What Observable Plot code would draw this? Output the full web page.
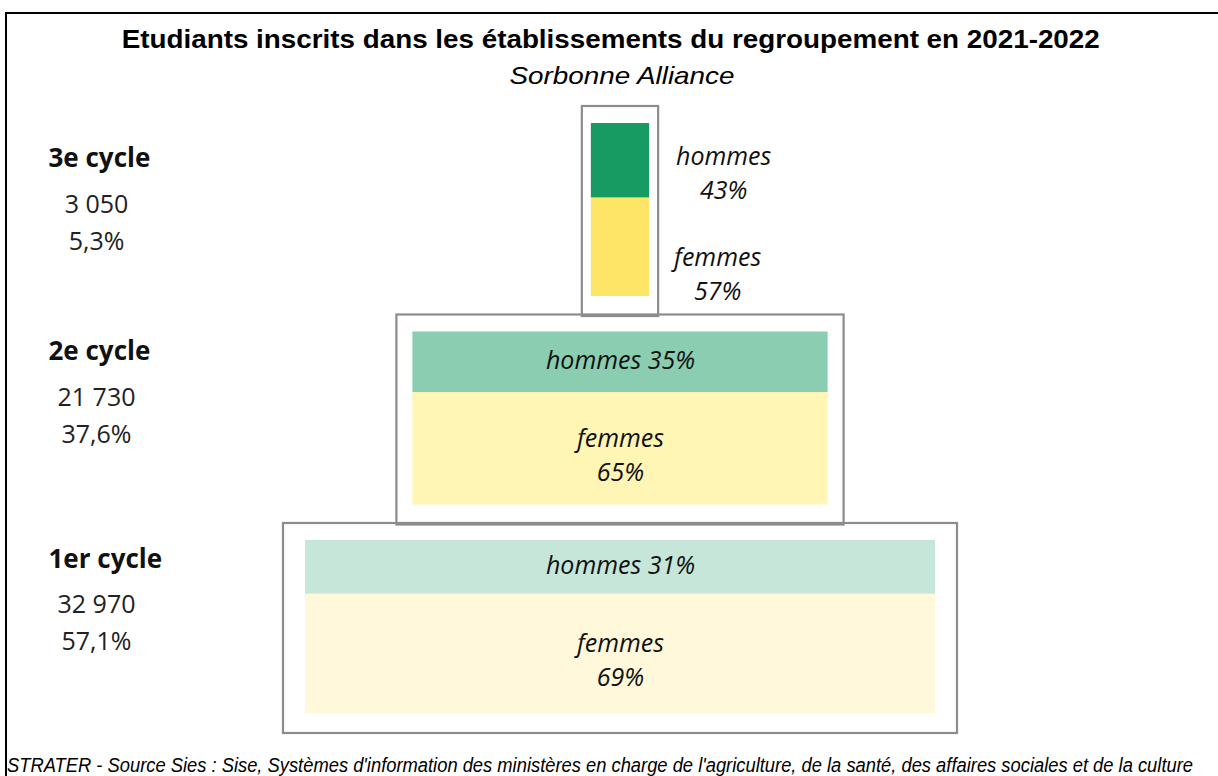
<!DOCTYPE html>
<html>
<head>
<meta charset="utf-8">
<script src="https://cdn.jsdelivr.net/npm/d3@7"></script>
<script src="https://cdn.jsdelivr.net/npm/@observablehq/plot@0.6"></script>
<style>
  html, body { margin: 0; padding: 0; background: #fff; }
  #page { position: relative; width: 1218px; height: 776px; overflow: hidden; background: #fff; }
  #frame { position: absolute; left: 5px; top: 12px; width: 1230px; height: 800px;
           border-top: 2px solid #000; border-left: 2px solid #000; box-sizing: border-box; }
  .line { position: absolute; white-space: nowrap; }
  .line span { display: inline-block; transform-origin: 0 50%; }
  #title { left: 0; width: 1222px; top: 27px; text-align: center;
           font: bold 25px/25px "Liberation Sans", Arial, sans-serif; color: #000; }
  #subtitle { left: 0; width: 1244px; top: 64px; text-align: center;
           font: italic 24px/24px "Liberation Sans", Arial, sans-serif; color: #000; }
  #chart { position: absolute; left: 0; top: 100px; }
  #caption { left: 7px; top: 755px;
           font: italic 20px/20px "Liberation Sans", Arial, sans-serif; color: #000; }
</style>
</head>
<body>
<div id="page">
  <div id="frame"></div>
  <div class="line" id="title"><span>Etudiants inscrits dans les établissements du regroupement en 2021-2022</span></div>
  <div class="line" id="subtitle"><span>Sorbonne Alliance</span></div>
  <div id="chart"></div>
  <div class="line" id="caption"><span>STRATER - Source Sies : Sise, Systèmes d'information des ministères en charge de l'agriculture, de la santé, des affaires sociales et de la culture</span></div>
</div>
<script>
// ---- Data ----
const cycles     = ["3e cycle", "2e cycle", "1er cycle"];
const effectifs  = [3050, 21730, 32970];
const parts      = [5.3, 37.6, 57.1];       // % of all students
const hommesPct  = [43, 35, 31];
const femmesPct  = [57, 65, 69];

// ---- Styles ----
const couleursHommes = ["#189a63", "#8bcdb1", "#c5e6d9"];
const couleursFemmes = ["#ffe566", "#fff5b4", "#fff8da"];
const boxPad   = [9, 16, 22];      // px padding of the grey outline around each bar
const labelDy  = [15, 0, -1];      // px vertical nudge of the left-hand labels
const STEP = 120.5;                // vertical distance between levels (in % units)

const fr = d3.formatLocale({decimal: ",", thousands: " ", grouping: [3], currency: ["", " €"]});
const fmtN = fr.format(",d");
const fmtP = fr.format(".1f");

const rows = cycles.map((c, i) => ({
  cycle: c, i, n: effectifs[i], part: parts[i], h: hommesPct[i], f: femmesPct[i],
  base: (cycles.length - 1 - i) * STEP, narrow: parts[i] < 10
}));
const segs = rows.flatMap(r => [
  {cycle: r.cycle, i: r.i, sexe: "femmes", n: r.n, pct: r.f, y1: r.base, y2: r.base + r.f,
   color: couleursFemmes[r.i], narrow: r.narrow},
  {cycle: r.cycle, i: r.i, sexe: "hommes", n: r.n, pct: r.h, y1: r.base + r.f, y2: r.base + 100,
   color: couleursHommes[r.i], narrow: r.narrow}
]);

const FONT = "'Open Sans', sans-serif";
const marks = [];

// grey outlines
rows.forEach(r => {
  marks.push(Plot.rect([r], {
    x1: d => -d.n / 2, x2: d => d.n / 2, y1: d => d.base, y2: d => d.base + 100,
    fill: "none", stroke: "#8c8c8c", strokeWidth: 2.2,
    insetLeft: -boxPad[r.i], insetRight: -boxPad[r.i], insetTop: -17, insetBottom: -20
  }));
});

// stacked bars
marks.push(Plot.rect(segs, {
  x1: d => -d.n / 2, x2: d => d.n / 2, y1: "y1", y2: "y2", fill: "color"
}));

// inside labels (wide bars)
marks.push(Plot.text(segs.filter(d => !d.narrow && d.sexe === "hommes"), {
  x: d => 0, y: d => (d.y1 + d.y2) / 2, text: d => `hommes ${d.pct}%`,
  fontStyle: "italic", fontSize: 25, fontFamily: FONT, fill: "#111", dy: -1
}));
marks.push(Plot.text(segs.filter(d => !d.narrow && d.sexe === "femmes"), {
  x: d => 0, y: d => (d.y1 + d.y2) / 2, text: d => `femmes\n${d.pct}%`,
  fontStyle: "italic", fontSize: 25, fontFamily: FONT, fill: "#111", lineHeight: 1.36, dy: 4
}));

// outside labels (narrow bar)
marks.push(Plot.text(segs.filter(d => d.narrow && d.sexe === "hommes"), {
  x: d => d.n / 2, y: d => (d.y1 + d.y2) / 2, text: d => `hommes\n${d.pct}%`,
  dx: 74, dy: 10, fontStyle: "italic", fontSize: 25, fontFamily: FONT, fill: "#111", lineHeight: 1.36
}));
marks.push(Plot.text(segs.filter(d => d.narrow && d.sexe === "femmes"), {
  x: d => d.n / 2, y: d => (d.y1 + d.y2) / 2, text: d => `femmes\n${d.pct}%`,
  dx: 68, dy: 25, fontStyle: "italic", fontSize: 25, fontFamily: FONT, fill: "#111", lineHeight: 1.36
}));

// left-hand labels
rows.forEach(r => {
  marks.push(Plot.text([r], {
    y: d => d.base + 100, text: "cycle", frameAnchor: "left", textAnchor: "start",
    dx: 48, dy: 20 + labelDy[r.i], fontWeight: "bold", fontSize: 26, fontFamily: FONT, fill: "#111"
  }));
  marks.push(Plot.text([r], {
    y: d => d.base + 100, text: d => fmtN(d.n), frameAnchor: "left", textAnchor: "middle",
    dx: 96, dy: 66 + labelDy[r.i], fontSize: 25, fontFamily: FONT, fill: "#222"
  }));
  marks.push(Plot.text([r], {
    y: d => d.base + 100, text: d => fmtP(d.part) + "%", frameAnchor: "left", textAnchor: "middle",
    dx: 96, dy: 103 + labelDy[r.i], fontSize: 25, fontFamily: FONT, fill: "#222"
  }));
});

const chart = Plot.plot({
  width: 1218,
  height: 640,
  marginLeft: 0, marginRight: 0, marginTop: 23, marginBottom: 27,
  x: {domain: [-32447, 31296], axis: null},
  y: {domain: [0, 2 * STEP + 100], axis: null},
  color: {type: "identity"},
  style: {background: "transparent", overflow: "visible"},
  marks
});
document.getElementById("chart").appendChild(chart);

// fit the HTML text lines to the widths measured on the reference
function fitWidth(id, target) {
  const span = document.querySelector(`#${id} span`);
  const w = span.getBoundingClientRect().width;
  const s = target / w;
  span.style.transform = `scaleX(${s})`;
  if (id !== "caption") span.style.transformOrigin = "50% 50%";
}
fitWidth("title", 978);
fitWidth("subtitle", 225);
fitWidth("caption", 1186);
</script>
</body>
</html>
